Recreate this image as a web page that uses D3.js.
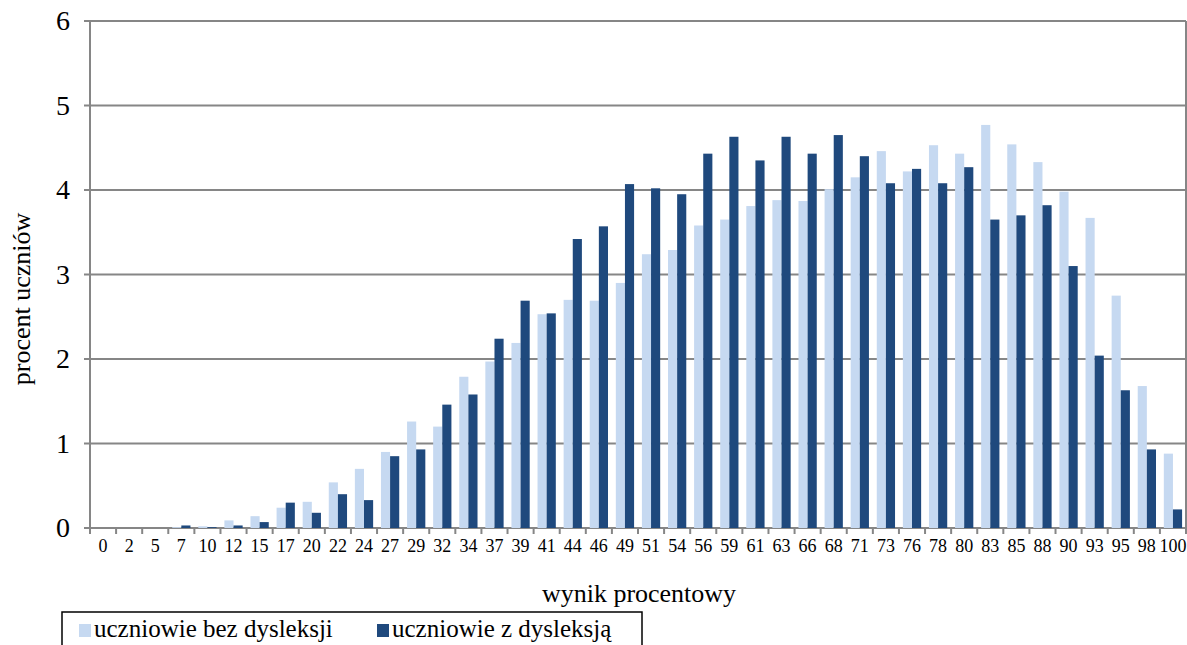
<!DOCTYPE html>
<html>
<head>
<meta charset="utf-8">
<title></title>
<style>
body { margin: 0; background: #fff; }
text { font-family: "Liberation Serif", "Times New Roman", serif; fill: #000; }
.grid line { stroke: #868686; stroke-width: 2px; }
</style>
</head>
<body>
<script src="https://cdn.jsdelivr.net/npm/d3@7/dist/d3.min.js"></script>
<script>

// x categories (wynik procentowy)
var categories = ["0","2","5","7","10","12","15","17","20","22","24","27","29","32","34","37","39","41","44","46","49","51","54","56","59","61","63","66","68","71","73","76","78","80","83","85","88","90","93","95","98","100"];

// uczniowie bez dysleksji
var bezDysleksji = [0, 0, 0, 0.01, 0.02, 0.09, 0.14, 0.24, 0.31, 0.54, 0.70, 0.90, 1.26, 1.20, 1.79, 1.97, 2.19, 2.53, 2.70, 2.69, 2.90, 3.24, 3.29, 3.58, 3.65, 3.81, 3.88, 3.87, 4.01, 4.15, 4.46, 4.22, 4.53, 4.43, 4.77, 4.54, 4.33, 3.98, 3.67, 2.75, 1.68, 0.88];

// uczniowie z dysleksja
var zDysleksja = [0, 0, 0, 0.03, 0.01, 0.03, 0.07, 0.30, 0.18, 0.40, 0.33, 0.85, 0.93, 1.46, 1.58, 2.24, 2.69, 2.54, 3.42, 3.57, 4.07, 4.02, 3.95, 4.43, 4.63, 4.35, 4.63, 4.43, 4.65, 4.40, 4.08, 4.25, 4.08, 4.27, 3.65, 3.70, 3.82, 3.10, 2.04, 1.63, 0.93, 0.22];

var seriesNames = ["uczniowie bez dysleksji", "uczniowie z dysleksją"];
var seriesColors = ["#c6d9f1", "#1f497d"];
var yTicks = [0, 1, 2, 3, 4, 5, 6];

var width = 1187, height = 645;
// note: "top" is taken by window.top, so use plot* names
var plotLeft = 90, plotRight = 1186, plotTop = 21, plotBottom = 528;

var svg = d3.select("body").append("svg")
    .attr("width", width)
    .attr("height", height);

var x = d3.scaleBand()
    .domain(categories)
    .range([plotLeft, plotRight])
    .paddingInner(0)
    .paddingOuter(0);

var xs = d3.scaleBand()
    .domain([0, 1])
    .range([x.bandwidth() * 0.15, x.bandwidth() * 0.85]);

var y = d3.scaleLinear()
    .domain([0, 6])
    .range([plotBottom, plotTop]);

// gridlines
svg.append("g")
    .attr("class", "grid")
    .selectAll("line")
    .data(yTicks)
    .enter().append("line")
    .attr("x1", plotLeft - 6)
    .attr("x2", plotRight)
    .attr("y1", function(d) { return y(d); })
    .attr("y2", function(d) { return y(d); });

// frame lines (left + right)
svg.append("line")
    .attr("x1", plotLeft).attr("x2", plotLeft)
    .attr("y1", plotTop).attr("y2", plotBottom + 6)
    .style("stroke", "#868686").style("stroke-width", 2);
svg.append("line")
    .attr("x1", plotRight).attr("x2", plotRight)
    .attr("y1", plotTop).attr("y2", plotBottom + 6)
    .style("stroke", "#868686").style("stroke-width", 2);

// bars
var rows = categories.map(function(c, i) {
  return {cat: c, vals: [bezDysleksji[i], zDysleksja[i]]};
});

var group = svg.append("g")
    .selectAll("g")
    .data(rows)
    .enter().append("g")
    .attr("transform", function(d) { return "translate(" + x(d.cat) + ",0)"; });

group.selectAll("rect")
    .data(function(d) { return d.vals; })
    .enter().append("rect")
    .attr("x", function(d, i) { return xs(i); })
    .attr("width", xs.bandwidth())
    .attr("y", function(d) { return y(d); })
    .attr("height", function(d) { return y(0) - y(d); })
    .style("fill", function(d, i) { return seriesColors[i]; });

// x axis ticks between categories
svg.append("g")
    .selectAll("line")
    .data(categories)
    .enter().append("line")
    .attr("x1", function(d) { return x(d); })
    .attr("x2", function(d) { return x(d); })
    .attr("y1", plotBottom)
    .attr("y2", plotBottom + 6)
    .style("stroke", "#868686").style("stroke-width", 2);

// x tick labels
svg.append("g")
    .selectAll("text")
    .data(categories)
    .enter().append("text")
    .attr("x", function(d) { return x(d) + x.bandwidth() / 2; })
    .attr("y", plotBottom + 24)
    .attr("text-anchor", "middle")
    .style("font-size", "18px")
    .text(function(d) { return d; });

// y tick labels
svg.append("g")
    .selectAll("text")
    .data(yTicks)
    .enter().append("text")
    .attr("x", 70)
    .attr("y", function(d) { return y(d) + 9; })
    .attr("text-anchor", "end")
    .style("font-size", "28px")
    .text(function(d) { return d; });

// axis titles
svg.append("text")
    .attr("transform", "translate(30,299) rotate(-90)")
    .attr("text-anchor", "middle")
    .style("font-size", "26px")
    .text("procent uczniów");

svg.append("text")
    .attr("x", 639)
    .attr("y", 602)
    .attr("text-anchor", "middle")
    .style("font-size", "26px")
    .text("wynik procentowy");

// legend
var legend = svg.append("g");
legend.append("rect")
    .attr("x", 62).attr("y", 612)
    .attr("width", 580).attr("height", 50)
    .style("fill", "none").style("stroke", "#000").style("stroke-width", 1.5);

var legendX = [79, 377];
seriesNames.forEach(function(name, i) {
  legend.append("rect")
      .attr("x", legendX[i]).attr("y", 624)
      .attr("width", 12).attr("height", 13)
      .style("fill", seriesColors[i]);
  legend.append("text")
      .attr("x", legendX[i] + 15)
      .attr("y", 637)
      .style("font-size", "25px")
      .text(name);
});

</script>
</body>
</html>
